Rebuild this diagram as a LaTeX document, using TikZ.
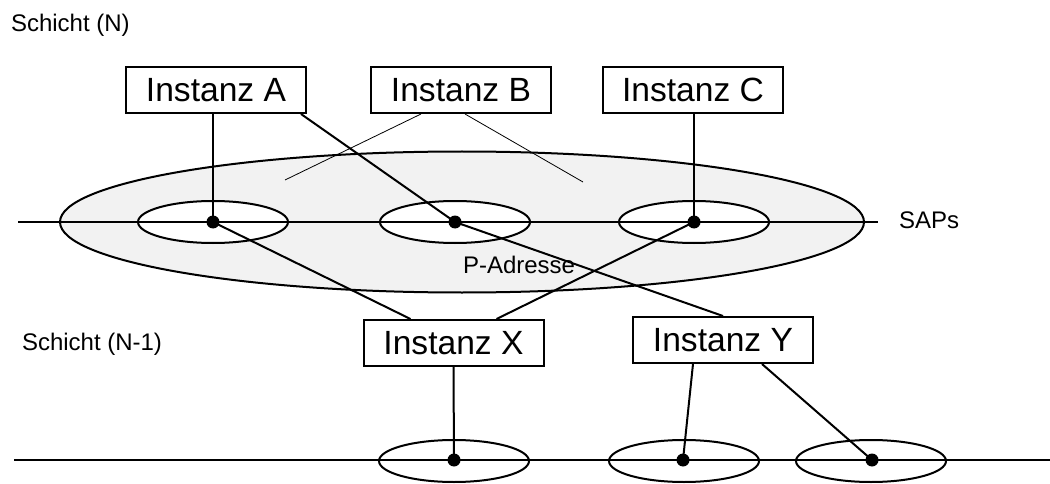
\documentclass[tikz,border=0pt]{standalone}
\usepackage{fontspec}
\setmainfont{Liberation Sans}
\usetikzlibrary{calc}
\definecolor{padrgray}{HTML}{F2F2F2}
\tikzset{
  inst/.style={draw, line width=2pt, minimum width=180pt, minimum height=46pt, inner sep=0pt, font=\fontsize{33.6}{40}\selectfont},
  sap/.style={circle, fill, inner sep=0pt, minimum size=13pt},
  lbl/.style={inner sep=0pt, anchor=base west, font=\fontsize{24}{28}\selectfont},
  hole/.style={draw, fill=white, line width=2pt},
  thinline/.style={line width=0.8pt}
}

\begin{document}
\begin{tikzpicture}[x=1pt, y=-1pt, line width=2pt]
\useasboundingbox (0,0) rectangle (1050,484);
\draw[fill=padrgray] (462,222) ellipse [x radius=402pt, y radius=70.5pt];
\node[lbl] (padr) at (462,273) {P-Adresse};
\foreach \x in {213,455,694}{
	\draw[hole] (\x,222) ellipse [x radius=75pt, y radius=21pt];
}
\foreach \x in {454,684,871}{
	\draw[hole] (\x,461) ellipse [x radius=75pt, y radius=21pt];
}
\coordinate (nleft) at (18,222);
\coordinate (nright) at (878,222);
\coordinate (mleft) at (14,460);
\coordinate (mright) at (1050,460);
\draw (nleft) -- (nright);
\draw (mleft) -- (mright);

\node[lbl] (schN) at (10,32) {Schicht (N)};
\node[lbl] (schNm) at (21,350) {Schicht (N-1)};
\node[lbl] (saps) at (898,229) {SAPs};

\node[inst] (instA) at (216,90) {Instanz A};
\node[inst] (instB) at (461,90) {Instanz B};
\node[inst] (instC) at (693,90) {Instanz C};
\node[inst] (instX) at (453.5,343) {Instanz X};
\node[inst] (instY) at (723,340) {Instanz Y};

\foreach \n/\x/\y in {sapA/213/222, sapB/455/222, sapC/694/222, sapX/454/460, sapYa/683/460, sapYb/872/460}{
	\node[sap] (\n) at (\x,\y) {};
}

\draw (sapA.center) -- (sapA |- instA.south);
\draw (sapC.center) -- (sapC |- instC.south);
\draw ($(instA.south east)+(-6,0)$) -- (sapB.center);
\draw (sapA.center) -- ($(instX.north)+(-43,0)$);
\draw (sapC.center) -- ($(instX.north)+(43,0)$);
\draw (sapB.center) -- (instY.north);
\draw (instX.south) -- (sapX.center);
\draw ($(instY.south)+(-30,0)$) -- (sapYa.center);
\draw ($(instY.south)+(39,0)$) -- (sapYb.center);

\coordinate (pa1) at (285,180);
\coordinate (pa2) at (583,182);
\draw[thinline] ($(instB.south)+(-40,0)$) -- (pa1);
\draw[thinline] ($(instB.south)+(4,0)$) -- (pa2);
\end{tikzpicture}
\end{document}
